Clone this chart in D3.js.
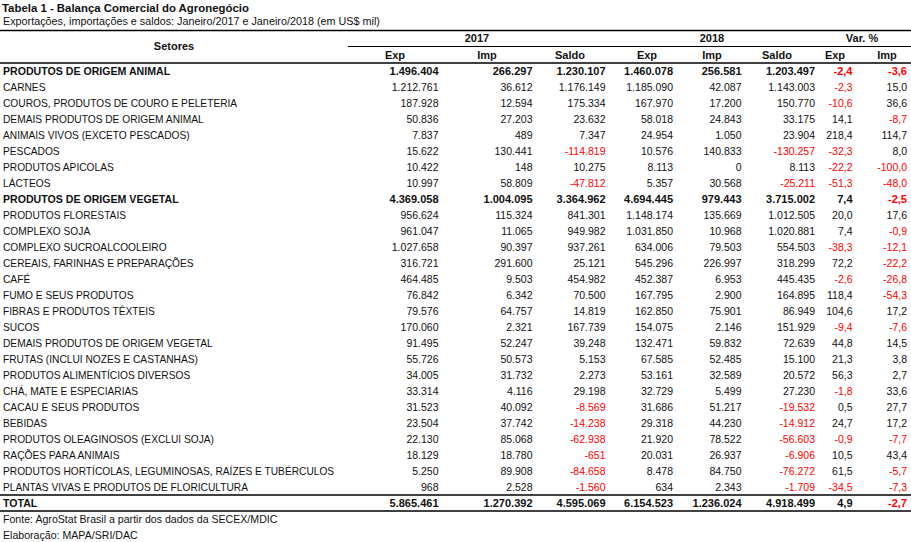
<!DOCTYPE html>
<html>
<head>
<meta charset="utf-8">
<script src="https://cdn.jsdelivr.net/npm/d3@7"></script>
<style>
  body { margin: 0; background: #fff; }
  svg { display: block; font-family: "Liberation Sans", Arial, sans-serif; }
</style>
</head>
<body>
<div id="chart"></div>
<script>
const sectors = [
  'PRODUTOS DE ORIGEM ANIMAL', 'CARNES', 'COUROS, PRODUTOS DE COURO E PELETERIA',
  'DEMAIS PRODUTOS DE ORIGEM ANIMAL', 'ANIMAIS VIVOS (EXCETO PESCADOS)', 'PESCADOS',
  'PRODUTOS APICOLAS', 'LÁCTEOS', 'PRODUTOS DE ORIGEM VEGETAL', 'PRODUTOS FLORESTAIS',
  'COMPLEXO SOJA', 'COMPLEXO SUCROALCOOLEIRO', 'CEREAIS, FARINHAS E PREPARAÇÕES', 'CAFÉ',
  'FUMO E SEUS PRODUTOS', 'FIBRAS E PRODUTOS TÊXTEIS', 'SUCOS', 'DEMAIS PRODUTOS DE ORIGEM VEGETAL',
  'FRUTAS (INCLUI NOZES E CASTANHAS)', 'PRODUTOS ALIMENTÍCIOS DIVERSOS', 'CHÁ, MATE E ESPECIARIAS',
  'CACAU E SEUS PRODUTOS', 'BEBIDAS', 'PRODUTOS OLEAGINOSOS (EXCLUI SOJA)', 'RAÇÕES PARA ANIMAIS',
  'PRODUTOS HORTÍCOLAS, LEGUMINOSAS, RAÍZES E TUBÉRCULOS', 'PLANTAS VIVAS E PRODUTOS DE FLORICULTURA',
  'TOTAL'
];
const boldRows = ['PRODUTOS DE ORIGEM ANIMAL', 'PRODUTOS DE ORIGEM VEGETAL', 'TOTAL'];

const exp2017 = [1496404, 1212761, 187928, 50836, 7837, 15622, 10422, 10997, 4369058, 956624, 961047, 1027658, 316721, 464485, 76842, 79576, 170060, 91495, 55726, 34005, 33314, 31523, 23504, 22130, 18129, 5250, 968, 5865461];
const imp2017 = [266297, 36612, 12594, 27203, 489, 130441, 148, 58809, 1004095, 115324, 11065, 90397, 291600, 9503, 6342, 64757, 2321, 52247, 50573, 31732, 4116, 40092, 37742, 85068, 18780, 89908, 2528, 1270392];
const saldo2017 = [1230107, 1176149, 175334, 23632, 7347, -114819, 10275, -47812, 3364962, 841301, 949982, 937261, 25121, 454982, 70500, 14819, 167739, 39248, 5153, 2273, 29198, -8569, -14238, -62938, -651, -84658, -1560, 4595069];
const exp2018 = [1460078, 1185090, 167970, 58018, 24954, 10576, 8113, 5357, 4694445, 1148174, 1031850, 634006, 545296, 452387, 167795, 162850, 154075, 132471, 67585, 53161, 32729, 31686, 29318, 21920, 20031, 8478, 634, 6154523];
const imp2018 = [256581, 42087, 17200, 24843, 1050, 140833, 0, 30568, 979443, 135669, 10968, 79503, 226997, 6953, 2900, 75901, 2146, 59832, 52485, 32589, 5499, 51217, 44230, 78522, 26937, 84750, 2343, 1236024];
const saldo2018 = [1203497, 1143003, 150770, 33175, 23904, -130257, 8113, -25211, 3715002, 1012505, 1020881, 554503, 318299, 445435, 164895, 86949, 151929, 72639, 15100, 20572, 27230, -19532, -14912, -56603, -6906, -76272, -1709, 4918499];
const varExp = [-2.4, -2.3, -10.6, 14.1, 218.4, -32.3, -22.2, -51.3, 7.4, 20.0, 7.4, -38.3, 72.2, -2.6, 118.4, 104.6, -9.4, 44.8, 21.3, 56.3, -1.8, 0.5, 24.7, -0.9, 10.5, 61.5, -34.5, 4.9];
const varImp = [-3.6, 15.0, 36.6, -8.7, 114.7, 8.0, -100.0, -48.0, -2.5, 17.6, -0.9, -12.1, -22.2, -26.8, -54.3, 17.2, -7.6, 14.5, 3.8, 2.7, 33.6, 27.7, 17.2, -7.7, 43.4, -5.7, -7.3, -2.7];

const groups = ['2017', '2018', 'Var. %'];
const subHeaders = ['Exp', 'Imp', 'Saldo', 'Exp', 'Imp', 'Saldo', 'Exp', 'Imp'];

const title = 'Tabela 1 - Balança Comercial do Agronegócio';
const subtitle = 'Exportações, importações e saldos: Janeiro/2017 e Janeiro/2018 (em US$ mil)';
const footer = ['Fonte: AgroStat Brasil a partir dos dados da SECEX/MDIC', 'Elaboração: MAPA/SRI/DAC'];

const columns = [exp2017, imp2017, saldo2017, exp2018, imp2018, saldo2018, varExp, varImp];

const width = 911, height = 542;

const br = d3.formatLocale({ decimal: ',', thousands: '.', grouping: [3], currency: ['R$', ''], minus: '-' });
const fmtInt = br.format(',d');
const fmtPct = br.format(',.1f');

const svg = d3.select('#chart').append('svg')
  .attr('width', width)
  .attr('height', height);

// rows and columns
const y = d3.scaleBand().domain(d3.range(sectors.length)).range([63, 511]);
const colRight = d3.scaleOrdinal().domain(d3.range(8))
  .range([438.5, 532.5, 605.5, 673, 741.5, 815, 852.5, 907]);
const colHead = d3.scaleOrdinal().domain(d3.range(8))
  .range([395, 487, 570, 647, 712, 777, 835, 887]);
const groupHead = d3.scaleOrdinal().domain(groups).range([477, 712, 862]);

// title block
svg.append('text').attr('x', 2).attr('y', 12)
  .style('font-size', '11.4px').style('font-weight', 'bold').attr('fill', '#111')
  .text(title);
svg.append('text').attr('x', 3).attr('y', 25)
  .style('font-size', '10.8px').attr('fill', '#111')
  .text(subtitle);

// rules
const rule = (x1, x2, yy, w) => svg.append('line')
  .attr('x1', x1).attr('x2', x2).attr('y1', yy).attr('y2', yy)
  .attr('stroke', '#000').attr('stroke-width', w);
rule(0, width, 30.5, 1.4);
rule(348, width, 46.5, 1.2);
rule(0, width, 63, 1.4);
rule(0, width, y(sectors.length - 1), 1.4);
rule(0, width, y(sectors.length - 1) + y.bandwidth(), 1.4);

// headers
svg.append('text').attr('x', 174).attr('y', 50)
  .attr('text-anchor', 'middle').style('font-size', '11px').style('font-weight', 'bold')
  .attr('fill', '#111').text('Setores');

svg.selectAll('.grp').data(groups).enter().append('text')
  .attr('class', 'grp')
  .attr('x', d => groupHead(d)).attr('y', 42)
  .attr('text-anchor', 'middle').style('font-size', '11px').style('font-weight', 'bold')
  .attr('fill', '#111').text(d => d);

svg.selectAll('.sub').data(subHeaders).enter().append('text')
  .attr('class', 'sub')
  .attr('x', (d, i) => colHead(i)).attr('y', 58.5)
  .attr('text-anchor', 'middle').style('font-size', '11px').style('font-weight', 'bold')
  .attr('fill', '#111').text(d => d);

// body rows
const rows = svg.selectAll('.row').data(sectors).enter().append('g')
  .attr('class', 'row')
  .attr('transform', (d, i) => `translate(0,${y(i) + y.bandwidth() / 2})`)
  .style('font-weight', d => boldRows.includes(d) ? 'bold' : 'normal');

rows.append('text')
  .attr('x', 3).attr('dy', '0.35em').attr('fill', '#111')
  .style('font-size', d => boldRows.includes(d) ? '10.6px' : '10.2px')
  .text(d => d);

rows.each(function (d, i) {
  const bold = boldRows.includes(d);
  d3.select(this).selectAll('.val').data(columns.map(c => c[i])).enter().append('text')
    .attr('class', 'val')
    .attr('x', (v, j) => colRight(j)).attr('dy', '0.35em')
    .attr('text-anchor', 'end')
    .style('font-size', bold ? '11px' : '10.5px')
    .attr('fill', v => v < 0 ? '#ff0000' : '#111')
    .text((v, j) => j >= 6 ? fmtPct(v) : fmtInt(v));
});

// footer
svg.selectAll('.foot').data(footer).enter().append('text')
  .attr('class', 'foot')
  .attr('x', 3).attr('y', (d, i) => 523 + i * 16)
  .style('font-size', '10.6px').attr('fill', '#111')
  .text(d => d);
</script>
</body>
</html>
